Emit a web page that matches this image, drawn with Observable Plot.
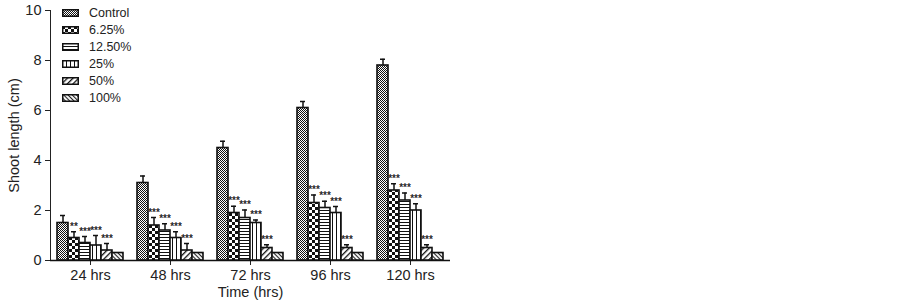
<!DOCTYPE html>
<html>
<head>
<meta charset="utf-8">
<script src="https://cdn.jsdelivr.net/npm/d3@7"></script>
<script src="https://cdn.jsdelivr.net/npm/@observablehq/plot@0.6"></script>
<style>
  html, body { margin: 0; padding: 0; background: #fff; }
  #wrap { position: relative; width: 902px; height: 300px; font-family: "Liberation Sans", Arial, sans-serif; }
  #legend { position: absolute; left: 62px; top: 4px; color: #222; font-size: 12.5px; }
  .row { display: flex; align-items: center; height: 17px; }
  .row svg { margin-right: 10px; }
  .stars text { -webkit-font-smoothing: antialiased; }
</style>
</head>
<body>
<div id="wrap"></div>
<script>
const times = ["24 hrs", "48 hrs", "72 hrs", "96 hrs", "120 hrs"];
const treatments = ["Control", "6.25%", "12.50%", "25%", "50%", "100%"];

const control = [1.5, 3.1, 4.5, 6.1, 7.8];
const controlSE = [0.3, 0.28, 0.27, 0.26, 0.25];
const c625 = [0.9, 1.4, 1.9, 2.3, 2.8];
const c625SE = [0.25, 0.32, 0.27, 0.32, 0.27];
const c1250 = [0.7, 1.2, 1.7, 2.1, 2.4];
const c1250SE = [0.26, 0.27, 0.32, 0.27, 0.3];
const c25 = [0.6, 0.9, 1.5, 1.9, 2.0];
const c25SE = [0.4, 0.25, 0.12, 0.26, 0.27];
const c50 = [0.4, 0.4, 0.5, 0.5, 0.5];
const c50SE = [0.28, 0.28, 0.13, 0.13, 0.13];
const c100 = [0.3, 0.3, 0.3, 0.3, 0.3];
const c100SE = [null, null, null, null, null];

const sigControl = ["", "", "", "", ""];
const sig625 = ["**", "***", "***", "***", "***"];
const sig1250 = ["***", "***", "***", "***", "***"];
const sig25 = ["***", "***", "***", "***", "***"];
const sig50 = ["***", "***", "***", "***", "***"];
const sig100 = ["", "", "", "", ""];

const yTicks = [0, 2, 4, 6, 8, 10];

const series = [
  [control, controlSE, sigControl],
  [c625, c625SE, sig625],
  [c1250, c1250SE, sig1250],
  [c25, c25SE, sig25],
  [c50, c50SE, sig50],
  [c100, c100SE, sig100]
];

const patternIds = ["p-control", "p-625", "p-1250", "p-25", "p-50", "p-100"];
const patternFills = patternIds.map(id => `url(#${id})`);

const rows = [];
treatments.forEach((t, i) => {
  const [vals, ses, sigs] = series[i];
  times.forEach((tm, j) => {
    const se = ses[j];
    rows.push({
      time: tm, treatment: t, value: vals[j], se: se,
      top: se == null ? vals[j] : vals[j] + se,
      sig: sigs[j]
    });
  });
});

const defs = `<defs>
  <pattern id="p-control" width="2" height="2" patternUnits="userSpaceOnUse">
    <rect width="2" height="2" fill="#fff"/>
    <rect width="1" height="1" fill="#111"/>
    <rect x="1" y="1" width="1" height="1" fill="#111"/>
  </pattern>
  <pattern id="p-625" width="6" height="6" patternUnits="userSpaceOnUse">
    <rect width="6" height="6" fill="#fff"/>
    <rect width="3" height="3" fill="#111"/>
    <rect x="3" y="3" width="3" height="3" fill="#111"/>
  </pattern>
  <pattern id="p-1250" width="3" height="3" patternUnits="userSpaceOnUse">
    <rect width="3" height="3" fill="#fff"/>
    <rect width="3" height="1" fill="#111"/>
  </pattern>
  <pattern id="p-25" width="4" height="4" patternUnits="userSpaceOnUse">
    <rect width="4" height="4" fill="#fff"/>
    <rect width="1" height="4" fill="#111"/>
  </pattern>
  <pattern id="p-50" width="4" height="4" patternUnits="userSpaceOnUse" patternTransform="rotate(45)">
    <rect width="4" height="4" fill="#fff"/>
    <rect width="1.3" height="4" fill="#111"/>
  </pattern>
  <pattern id="p-100" width="3" height="3" patternUnits="userSpaceOnUse" patternTransform="rotate(-45)">
    <rect width="3" height="3" fill="#fff"/>
    <rect width="1.1" height="3" fill="#222"/>
  </pattern>
</defs>`;

const chart = Plot.plot({
  width: 902,
  height: 300,
  marginLeft: 50,
  marginRight: 452,
  marginTop: 10,
  marginBottom: 40,
  style: { fontFamily: "Liberation Sans, Arial, sans-serif", fontSize: "14.5px", color: "#222", background: "#fff" },
  fx: { domain: times, padding: 0 },
  x: { domain: treatments, paddingInner: 0, paddingOuter: 0.478, axis: null },
  y: { domain: [0, 10], ticks: yTicks, tickSize: 5, line: true, label: "Shoot length (cm)", labelAnchor: "center", labelArrow: "none", labelOffset: 42 },
  color: { domain: treatments, range: patternFills },
  marks: [
    Plot.axisFx({ anchor: "bottom", tickSize: 5, tickPadding: 4, label: "Time (hrs)", labelAnchor: "center", labelArrow: "none", labelOffset: 36 }),
    Plot.ruleY([0], { stroke: "#111", strokeWidth: 1.5 }),
    Plot.ruleX(rows.filter(d => d.se != null), { fx: "time", x: "treatment", y1: "value", y2: "top", stroke: "#111", strokeWidth: 1.5 }),
    Plot.tickY(rows.filter(d => d.se != null), { fx: "time", x: "treatment", y: "top", stroke: "#111", strokeWidth: 1.5, insetLeft: 3, insetRight: 3 }),
    Plot.barY(rows, { fx: "time", x: "treatment", y: "value", fill: "treatment", stroke: "#111", strokeWidth: 1.6 }),
    Plot.text(rows.filter(d => d.sig), { fx: "time", x: "treatment", y: "top", text: "sig", dy: -5, fontSize: 10, fontWeight: "bold", fill: "#222", fillOpacity: 0.99, className: "stars" })
  ]
});

chart.insertAdjacentHTML("afterbegin", defs);
document.getElementById("wrap").appendChild(chart);

const legend = document.createElement("div");
legend.id = "legend";
treatments.forEach((t, i) => {
  const row = document.createElement("div");
  row.className = "row";
  row.innerHTML = `<svg width="17" height="8"><rect x="0.75" y="0.75" width="15.5" height="6.5" fill="${patternFills[i]}" stroke="#111" stroke-width="1.5"/></svg><span>${t}</span>`;
  legend.appendChild(row);
});
document.getElementById("wrap").appendChild(legend);
</script>
</body>
</html>
